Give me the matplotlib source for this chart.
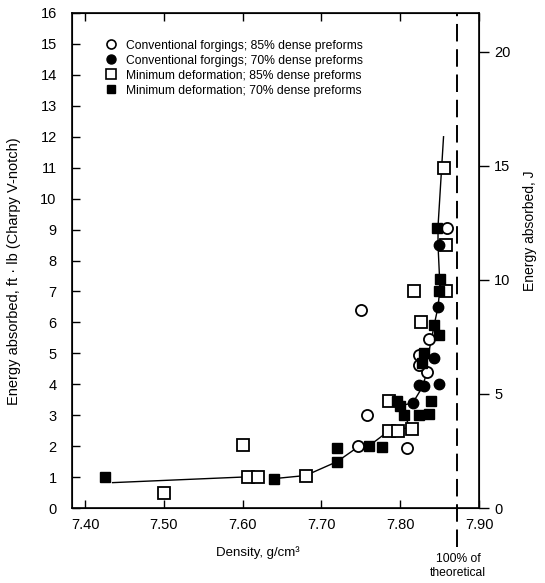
import matplotlib
matplotlib.use("Agg")
import matplotlib.pyplot as plt
from matplotlib.lines import Line2D

plt.rcParams['font.family'] = ['Liberation Sans', 'DejaVu Sans']

# ---- data (density g/cm3, energy ft.lb) ----
conv85_x = [7.750, 7.758, 7.747, 7.809, 7.834, 7.824, 7.824, 7.836, 7.859]
conv85_y = [6.40, 3.00, 2.00, 1.95, 4.40, 4.95, 4.63, 5.45, 9.05]

conv70_x = [7.816, 7.830, 7.849, 7.843, 7.848, 7.849, 7.824]
conv70_y = [3.40, 3.95, 4.00, 4.85, 6.50, 8.50, 3.98]

mind85_x = [7.500, 7.600, 7.607, 7.620, 7.680, 7.786, 7.786, 7.797, 7.815,
            7.818, 7.827, 7.856, 7.858, 7.858]
mind85_y = [0.50, 2.05, 1.00, 1.00, 1.05, 3.45, 2.50, 2.50, 2.55,
            7.02, 6.00, 11.00, 8.50, 7.02]

mind70_x = [7.425, 7.640, 7.720, 7.720, 7.760, 7.777, 7.796, 7.805, 7.824,
            7.837, 7.839, 7.828, 7.830, 7.843, 7.849, 7.849, 7.850, 7.847, 7.800]
mind70_y = [1.00, 0.95, 1.50, 1.95, 2.00, 1.97, 3.46, 3.00, 3.00,
            3.04, 3.46, 4.70, 5.00, 5.90, 5.60, 7.02, 7.41, 9.05, 3.30]

curve1_x = [7.435, 7.600]
curve1_y = [0.82, 1.00]
curve2_x = [7.640, 7.680, 7.720, 7.748, 7.760, 7.786, 7.800, 7.812, 7.806, 7.800,
            7.816, 7.828, 7.834, 7.830, 7.836, 7.840, 7.843, 7.848, 7.850, 7.850,
            7.848, 7.848, 7.855]
curve2_y = [0.95, 1.05, 1.50, 2.00, 2.00, 2.50, 2.55, 2.60, 3.00, 3.30,
            3.40, 3.90, 4.40, 4.70, 5.00, 5.50, 5.90, 6.50, 7.00, 7.40,
            8.50, 9.10, 12.00]

theoretical_x = 7.872
ftlb_to_J = 1.3558

legend_labels = ["Conventional forgings; 85% dense preforms",
                 "Conventional forgings; 70% dense preforms",
                 "Minimum deformation; 85% dense preforms",
                 "Minimum deformation; 70% dense preforms"]

# ---- figure ----
W, H = 545, 583
fig = plt.figure(figsize=(W / 100, H / 100), dpi=100)
ax = fig.add_axes([72 / W, 1 - 508 / H, (479 - 72) / W, (508 - 13) / H])

ax.plot(curve1_x, curve1_y, color='black', lw=1.0, zorder=2)
ax.plot(curve2_x, curve2_y, color='black', lw=1.0, zorder=2)

ms = 8
ax.plot(mind85_x, mind85_y, ls='none', marker='s', ms=ms, mfc='white', mec='black', mew=1.3, zorder=3)
ax.plot(conv85_x, conv85_y, ls='none', marker='o', ms=ms, mfc='white', mec='black', mew=1.3, zorder=3)
ax.plot(mind70_x, mind70_y, ls='none', marker='s', ms=ms - 0.5, mfc='black', mec='black', zorder=4)
ax.plot(conv70_x, conv70_y, ls='none', marker='o', ms=ms - 0.5, mfc='black', mec='black', zorder=4)

ax.plot([theoretical_x, theoretical_x], [-1.25, 16], color='black', lw=1.4,
        ls=(0, (9, 4)), clip_on=False, zorder=1)

ax.set_xlim(7.3835, 7.90)
ax.set_ylim(0, 16)
ax.set_xticks([7.40, 7.50, 7.60, 7.70, 7.80, 7.90])
ax.set_xticklabels(["7.40", "7.50", "7.60", "7.70", "7.80", "7.90"])
ax.set_yticks(range(0, 17))
ax.tick_params(axis='both', direction='in', length=6, width=1, labelsize=10.5,
               top=True, right=True)
ax.tick_params(axis='y', pad=11)
ax.tick_params(axis='x', pad=7)
for s in ax.spines.values():
    s.set_linewidth(1.2)

ax2 = ax.twinx()
ax2.set_ylim(0, 16 * ftlb_to_J)
ax2.set_yticks([0, 5, 10, 15, 20])
ax2.tick_params(axis='y', direction='out', length=7, width=1, labelsize=10.5, pad=4)

fig.text(14 / W, 1 - 271 / H, "Energy absorbed, ft · lb (Charpy V-notch)",
         rotation=90, ha='center', va='center', fontsize=10.5)
fig.text(530 / W, 1 - 231 / H, "Energy absorbed, J",
         rotation=90, ha='center', va='center', fontsize=10)

fig.text(258 / W, 1 - 553 / H, "Density, g/cm³", ha='center', va='center', fontsize=9.5)
fig.text(458 / W, 1 - 566 / H, "100% of\ntheoretical", ha='center', va='center',
         fontsize=8.7, linespacing=1.3)

handles = [
    Line2D([], [], ls='none', marker='o', ms=6.5, mfc='white', mec='black', mew=1.2),
    Line2D([], [], ls='none', marker='o', ms=6.5, mfc='black', mec='black'),
    Line2D([], [], ls='none', marker='s', ms=7, mfc='white', mec='black', mew=1.2),
    Line2D([], [], ls='none', marker='s', ms=6, mfc='black', mec='black'),
]
ax.legend(handles, legend_labels, loc='upper left', bbox_to_anchor=(0.07, 0.956),
          frameon=False, fontsize=8.7, handlelength=1.0, handletextpad=0.7,
          labelspacing=0.25, borderaxespad=0)

fig.savefig("out.png", dpi=100)
